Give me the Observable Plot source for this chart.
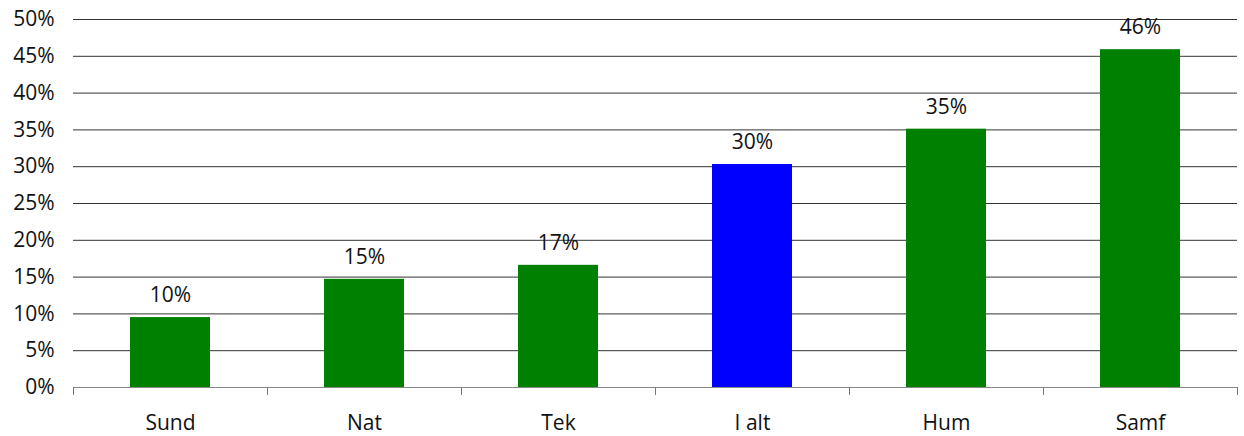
<!DOCTYPE html>
<html>
<head>
<meta charset="utf-8">
<script src="https://cdn.jsdelivr.net/npm/d3@7"></script>
<script src="https://cdn.jsdelivr.net/npm/@observablehq/plot@0.6"></script>
<style>
  html, body { margin: 0; padding: 0; background: #fff; }
  #chart svg { display: block; }
</style>
</head>
<body>
<div id="chart"></div>
<script>
const categories = ["Sund", "Nat", "Tek", "I alt", "Hum", "Samf"];
const values = [9.5, 14.7, 16.6, 30.3, 35.1, 45.9];
const barColors = ["#008000", "#008000", "#008000", "#0000FF", "#008000", "#008000"];
const yTicks = [0, 5, 10, 15, 20, 25, 30, 35, 40, 45, 50];

const data = categories.map((c, i) => ({cat: c, value: values[i], color: barColors[i]}));
const FONT = "'Open Sans', 'Noto Sans', sans-serif";
const PAD = 0.59;

function boundaryTicks(index, scales, vals, dims) {
  const x = scales.x;
  const y = scales.y;
  const step = x.step();
  const first = x(categories[0]) - (step - x.bandwidth()) / 2;
  const y0 = y(0);
  const g = d3.create("svg:g");
  for (let k = 0; k <= categories.length; k++) {
    const px = Math.round(first + k * step) + 0.5;
    g.append("line")
      .attr("x1", px).attr("x2", px)
      .attr("y1", y0).attr("y2", y0 + 8)
      .attr("stroke", "#777").attr("stroke-width", 1);
  }
  return g.node();
}

const chart = Plot.plot({
  width: 1244,
  height: 436,
  marginLeft: 73,
  marginRight: 7,
  marginTop: 19,
  marginBottom: 49,
  style: {fontFamily: FONT, fontSize: "21px", color: "#111", background: "#fff"},
  x: {domain: categories, paddingInner: PAD, paddingOuter: PAD / 2, label: null},
  y: {domain: [0, 50], label: null},
  marks: [
    Plot.ruleY(yTicks.filter(d => d > 0), {stroke: "#333", strokeWidth: 1}),
    Plot.barY(data, {x: "cat", y: "value", fill: "color"}),
    Plot.ruleY([0], {stroke: "#888", strokeWidth: 1}),
    boundaryTicks,
    Plot.text(data, {x: "cat", y: "value", text: d => Math.round(d.value) + "%", dy: -22, fontSize: 21, fill: "#111"}),
    Plot.axisY({ticks: yTicks, tickFormat: d => d + "%", tickSize: 0, tickPadding: 19, fontSize: 21, label: null}),
    Plot.axisX({tickSize: 0, tickPadding: 28, fontSize: 21, label: null})
  ]
});
document.getElementById("chart").appendChild(chart);
</script>
</body>
</html>
